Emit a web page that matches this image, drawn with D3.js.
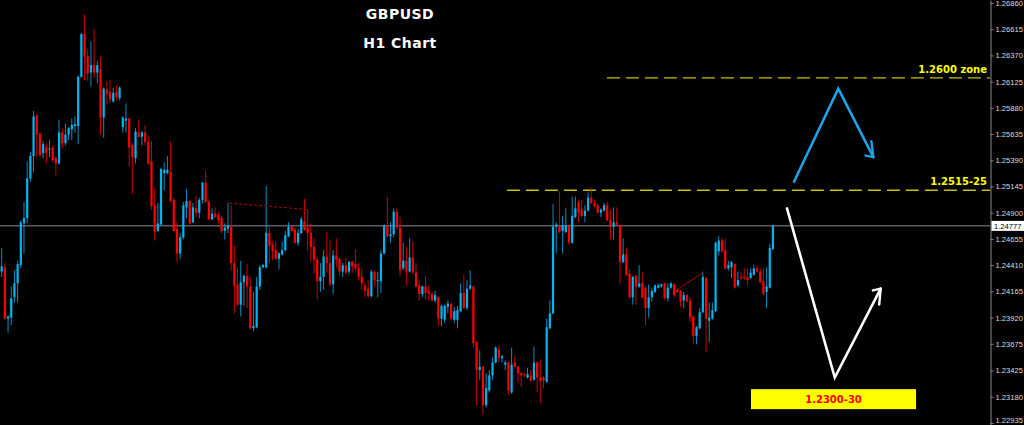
<!DOCTYPE html>
<html><head><meta charset="utf-8">
<script src="https://cdn.jsdelivr.net/npm/d3@7"></script>
<style>html,body{margin:0;padding:0;background:#000;overflow:hidden}</style>
</head><body>
<svg id="chart" width="1024" height="425"></svg>
<script>
// ---- data (GBPUSD H1) ----
const open = [
1.2435,1.2439,1.2391,1.2392,1.2411,1.2424,1.2441,1.2480,1.2485,1.2522,
1.2543,1.2581,1.2564,1.2546,1.2551,1.2549,1.2551,1.2541,1.2536,1.2565,
1.2555,1.2563,1.2568,1.2571,1.2571,1.2617,1.2657,1.2636,1.2621,1.2628,
1.2621,1.2624,1.2579,1.2605,1.2603,1.2594,1.2603,1.2597,1.2570,1.2576,
1.2578,1.2553,1.2541,1.2565,1.2561,1.2565,1.2556,1.2538,1.2497,1.2473,
1.2479,1.2527,1.2527,1.2528,1.2502,1.2475,1.2452,1.2467,1.2495,1.2501,
1.2481,1.2494,1.2490,1.2502,1.2518,1.2500,1.2484,1.2489,1.2488,1.2485,
1.2473,1.2475,1.2477,1.2443,1.2423,1.2404,1.2425,1.2431,1.2421,1.2382,
1.2383,1.2421,1.2439,1.2439,1.2471,1.2460,1.2455,1.2447,1.2451,1.2455,
1.2468,1.2477,1.2474,1.2462,1.2471,1.2482,1.2476,1.2471,1.2458,1.2446,
1.2426,1.2430,1.2449,1.2443,1.2423,1.2450,1.2447,1.2435,1.2441,1.2435,
1.2444,1.2442,1.2438,1.2430,1.2422,1.2419,1.2412,1.2435,1.2426,1.2426,
1.2452,1.2478,1.2468,1.2470,1.2491,1.2476,1.2438,1.2445,1.2435,1.2448,
1.2434,1.2422,1.2414,1.2421,1.2416,1.2414,1.2408,1.2411,1.2391,1.2390,
1.2402,1.2405,1.2390,1.2390,1.2398,1.2415,1.2401,1.2419,1.2421,1.2369,
1.2343,1.2346,1.2310,1.2324,1.2338,1.2350,1.2362,1.2354,1.2348,1.2350,
1.2322,1.2350,1.2346,1.2340,1.2339,1.2336,1.2338,1.2334,1.2350,1.2336,
1.2336,1.2332,1.2382,1.2396,1.2477,1.2478,1.2473,1.2472,1.2478,1.2462,
1.2486,1.2500,1.2493,1.2487,1.2492,1.2504,1.2499,1.2497,1.2490,1.2492,
1.2497,1.2483,1.2477,1.2481,1.2478,1.2444,1.2451,1.2433,1.2411,1.2431,
1.2421,1.2424,1.2420,1.2401,1.2411,1.2416,1.2420,1.2421,1.2424,1.2410,
1.2420,1.2423,1.2418,1.2417,1.2408,1.2413,1.2408,1.2393,1.2375,1.2382,
1.2397,1.2429,1.2389,1.2391,1.2398,1.2454,1.2464,1.2455,1.2438,1.2439,
1.2442,1.2422,1.2430,1.2430,1.2430,1.2429,1.2432,1.2438,1.2435,1.2426,
1.2416,1.2420,1.2456];
const high = [
1.2457,1.2443,1.2394,1.2421,1.2436,1.2445,1.2483,1.2500,1.2538,1.2547,
1.2585,1.2582,1.2565,1.2557,1.2555,1.2558,1.2553,1.2543,1.2577,1.2569,
1.2573,1.2570,1.2578,1.2580,1.2618,1.2658,1.2675,1.2643,1.2650,1.2662,
1.2632,1.2636,1.2607,1.2613,1.2614,1.2607,1.2609,1.2608,1.2580,1.2592,
1.2579,1.2555,1.2569,1.2577,1.2566,1.2572,1.2562,1.2557,1.2512,1.2499,
1.2532,1.2537,1.2543,1.2556,1.2504,1.2481,1.2471,1.2500,1.2512,1.2502,
1.2499,1.2506,1.2504,1.2519,1.2529,1.2502,1.2494,1.2495,1.2491,1.2487,
1.2480,1.2499,1.2497,1.2459,1.2438,1.2445,1.2432,1.2442,1.2430,1.2416,
1.2430,1.2441,1.2442,1.2515,1.2477,1.2463,1.2463,1.2453,1.2463,1.2473,
1.2481,1.2478,1.2476,1.2475,1.2486,1.2503,1.2493,1.2480,1.2466,1.2449,
1.2443,1.2455,1.2472,1.2465,1.2455,1.2466,1.2448,1.2443,1.2448,1.2445,
1.2445,1.2456,1.2443,1.2438,1.2425,1.2427,1.2437,1.2436,1.2435,1.2455,
1.2479,1.2505,1.2481,1.2494,1.2494,1.2486,1.2462,1.2458,1.2466,1.2463,
1.2443,1.2427,1.2422,1.2431,1.2422,1.2416,1.2417,1.2412,1.2404,1.2404,
1.2408,1.2406,1.2402,1.2403,1.2424,1.2432,1.2427,1.2436,1.2422,1.2370,
1.2361,1.2347,1.2340,1.2343,1.2355,1.2365,1.2366,1.2357,1.2352,1.2351,
1.2364,1.2356,1.2347,1.2341,1.2340,1.2345,1.2343,1.2365,1.2351,1.2353,
1.2337,1.2391,1.2408,1.2498,1.2481,1.2510,1.2487,1.2494,1.2479,1.2505,
1.2505,1.2502,1.2502,1.2497,1.2509,1.2513,1.2502,1.2498,1.2494,1.2499,
1.2500,1.2493,1.2495,1.2495,1.2479,1.2466,1.2457,1.2437,1.2431,1.2432,
1.2441,1.2434,1.2421,1.2423,1.2420,1.2423,1.2424,1.2424,1.2425,1.2424,
1.2425,1.2424,1.2419,1.2418,1.2416,1.2414,1.2411,1.2394,1.2384,1.2401,
1.2435,1.2430,1.2406,1.2406,1.2463,1.2468,1.2466,1.2466,1.2445,1.2445,
1.2443,1.2435,1.2434,1.2438,1.2438,1.2438,1.2441,1.2441,1.2438,1.2438,
1.2439,1.2461,1.2479];
const low = [
1.2430,1.2390,1.2378,1.2385,1.2406,1.2406,1.2438,1.2452,1.2480,1.2519,
1.2528,1.2542,1.2542,1.2541,1.2536,1.2542,1.2537,1.2525,1.2535,1.2550,
1.2553,1.2558,1.2558,1.2565,1.2554,1.2616,1.2614,1.2613,1.2608,1.2616,
1.2611,1.2563,1.2560,1.2591,1.2593,1.2593,1.2595,1.2595,1.2565,1.2565,
1.2533,1.2508,1.2536,1.2560,1.2553,1.2553,1.2535,1.2493,1.2464,1.2472,
1.2478,1.2511,1.2526,1.2500,1.2472,1.2444,1.2447,1.2465,1.2485,1.2479,
1.2480,1.2486,1.2485,1.2499,1.2499,1.2483,1.2483,1.2485,1.2480,1.2471,
1.2465,1.2471,1.2436,1.2396,1.2403,1.2393,1.2403,1.2401,1.2381,1.2379,
1.2382,1.2418,1.2438,1.2438,1.2443,1.2446,1.2446,1.2437,1.2450,1.2454,
1.2467,1.2472,1.2461,1.2459,1.2470,1.2473,1.2455,1.2444,1.2433,1.2409,
1.2416,1.2418,1.2434,1.2421,1.2414,1.2439,1.2431,1.2430,1.2433,1.2433,
1.2434,1.2436,1.2427,1.2418,1.2411,1.2411,1.2411,1.2421,1.2411,1.2415,
1.2451,1.2467,1.2462,1.2467,1.2474,1.2431,1.2436,1.2422,1.2434,1.2433,
1.2420,1.2408,1.2411,1.2409,1.2408,1.2407,1.2406,1.2384,1.2384,1.2387,
1.2396,1.2390,1.2387,1.2382,1.2397,1.2400,1.2399,1.2418,1.2364,1.2310,
1.2334,1.2301,1.2308,1.2322,1.2334,1.2349,1.2350,1.2350,1.2343,1.2320,
1.2321,1.2345,1.2331,1.2327,1.2336,1.2335,1.2332,1.2333,1.2322,1.2312,
1.2326,1.2331,1.2381,1.2395,1.2452,1.2471,1.2452,1.2471,1.2460,1.2461,
1.2485,1.2481,1.2486,1.2481,1.2491,1.2498,1.2495,1.2489,1.2486,1.2491,
1.2482,1.2465,1.2465,1.2478,1.2423,1.2443,1.2431,1.2410,1.2404,1.2404,
1.2420,1.2410,1.2385,1.2392,1.2407,1.2415,1.2419,1.2420,1.2409,1.2407,
1.2419,1.2411,1.2415,1.2402,1.2401,1.2406,1.2388,1.2368,1.2367,1.2381,
1.2396,1.2360,1.2369,1.2390,1.2397,1.2450,1.2453,1.2437,1.2436,1.2429,
1.2419,1.2421,1.2427,1.2427,1.2422,1.2428,1.2431,1.2434,1.2424,1.2413,
1.2401,1.2419,1.2455];
const close = [
1.2440,1.2391,1.2393,1.2410,1.2424,1.2442,1.2481,1.2485,1.2522,1.2543,
1.2580,1.2563,1.2544,1.2554,1.2546,1.2550,1.2539,1.2536,1.2565,1.2555,
1.2563,1.2569,1.2572,1.2573,1.2617,1.2657,1.2636,1.2620,1.2628,1.2621,
1.2628,1.2579,1.2606,1.2601,1.2596,1.2602,1.2598,1.2607,1.2579,1.2578,
1.2551,1.2542,1.2566,1.2561,1.2565,1.2556,1.2536,1.2496,1.2472,1.2480,
1.2531,1.2530,1.2530,1.2501,1.2473,1.2452,1.2467,1.2497,1.2501,1.2480,
1.2495,1.2490,1.2502,1.2518,1.2500,1.2484,1.2489,1.2486,1.2483,1.2473,
1.2476,1.2478,1.2443,1.2422,1.2404,1.2425,1.2431,1.2421,1.2382,1.2384,
1.2421,1.2439,1.2441,1.2471,1.2459,1.2454,1.2447,1.2452,1.2455,1.2469,
1.2477,1.2473,1.2462,1.2471,1.2484,1.2474,1.2471,1.2458,1.2446,1.2426,
1.2430,1.2449,1.2443,1.2423,1.2450,1.2446,1.2435,1.2441,1.2434,1.2444,
1.2440,1.2438,1.2430,1.2424,1.2417,1.2412,1.2435,1.2427,1.2427,1.2452,
1.2478,1.2468,1.2470,1.2491,1.2476,1.2436,1.2445,1.2435,1.2448,1.2434,
1.2421,1.2414,1.2421,1.2415,1.2414,1.2408,1.2413,1.2391,1.2403,1.2403,
1.2405,1.2391,1.2398,1.2399,1.2415,1.2401,1.2419,1.2422,1.2368,1.2343,
1.2346,1.2310,1.2326,1.2338,1.2350,1.2364,1.2354,1.2356,1.2350,1.2324,
1.2348,1.2346,1.2340,1.2338,1.2338,1.2339,1.2333,1.2350,1.2336,1.2333,
1.2333,1.2383,1.2396,1.2477,1.2479,1.2472,1.2478,1.2478,1.2462,1.2487,
1.2494,1.2490,1.2487,1.2492,1.2504,1.2499,1.2496,1.2490,1.2493,1.2497,
1.2483,1.2477,1.2481,1.2479,1.2444,1.2451,1.2432,1.2411,1.2430,1.2421,
1.2424,1.2411,1.2401,1.2411,1.2417,1.2422,1.2422,1.2423,1.2410,1.2420,
1.2424,1.2413,1.2416,1.2407,1.2413,1.2407,1.2392,1.2375,1.2383,1.2397,
1.2430,1.2391,1.2392,1.2399,1.2462,1.2464,1.2454,1.2438,1.2441,1.2444,
1.2420,1.2427,1.2429,1.2429,1.2427,1.2434,1.2438,1.2435,1.2425,1.2414,
1.2421,1.2457,1.24777];

const tickValues = [1.26860,1.26615,1.26370,1.26125,1.25880,1.25635,1.25390,1.25145,1.24900,
                    1.24655,1.24410,1.24165,1.23920,1.23675,1.23425,1.23180,1.22935];
const tickLabels = ["1.26860","1.26615","1.26370","1.26125","1.25880","1.25635","1.25390","1.25145","1.24900",
                    "1.24655","1.24410","1.24165","1.23920","1.23675","1.23425","1.23180","1.22935"];
const currentPrice = 1.24777;
const currentLabel = "1.24777";

const titleLines = ["GBPUSD", "H1 Chart"];

// horizontal levels (dashed yellow)
const levelPrice = [1.2511, 1.2616];
const levelStartBar = [158.5, 189.9];
const levelLabel = ["1.2515-25", "1.2600 zone"];

// trend lines (bar index, price)
const trend1Bar = [71.4, 96.2],   trend1Price = [1.2499, 1.2493];
const trend2Bar = [211.8, 220.1], trend2Price = [1.2418, 1.2434];

// scenario arrows
const blueArrowBar = [248.6, 262.5, 273.5],  blueArrowPrice = [1.2519, 1.2606, 1.2542];
const whiteArrowBar = [246.4, 261.4, 275.8], whiteArrowPrice = [1.2494, 1.2336, 1.2419];

// target box
const targetBar = [235.1, 286.9], targetPrice = [1.23251, 1.23064];
const targetLabel = "1.2300-30";

// ---- drawing ----
const W = 1024, H = 425, plotRight = 990;
const svg = d3.select("#chart");
svg.append("rect").attr("width", W).attr("height", H).attr("fill", "#000");

const x = d3.scaleLinear().domain([-0.53, 310.1]).range([0, plotRight]);
const y = d3.scaleLinear().domain([1.22916, 1.26888]).range([H, 0]);

const bars = open.map((o, i) => ({i, o, h: high[i], l: low[i], c: close[i]}));

// level lines
levelPrice.forEach((p, k) => {
  svg.append("line")
    .attr("x1", x(levelStartBar[k])).attr("x2", plotRight)
    .attr("y1", y(p)).attr("y2", y(p))
    .attr("stroke", "#c4c400").attr("stroke-width", 1.3)
    .attr("stroke-dasharray", "13,6");
  svg.append("text")
    .attr("x", plotRight - 3).attr("y", y(p) - 5)
    .attr("text-anchor", "end")
    .attr("font-family", "DejaVu Sans, sans-serif").attr("font-weight", "bold")
    .attr("font-size", "10px").attr("fill", "#ffff00")
    .text(levelLabel[k]);
});

// current price line
svg.append("line")
  .attr("x1", 0).attr("x2", plotRight)
  .attr("y1", y(currentPrice)).attr("y2", y(currentPrice))
  .attr("stroke", "#5a5e64").attr("stroke-width", 1.5);

// candles
const bull = "#00b4f2", bear = "#ff0000";
const g = svg.append("g");
g.selectAll("line.wick").data(bars).join("line")
  .attr("class", "wick")
  .attr("x1", d => x(d.i)).attr("x2", d => x(d.i))
  .attr("y1", d => y(d.h)).attr("y2", d => y(d.l))
  .attr("stroke", d => d.c >= d.o ? bull : bear)
  .attr("stroke-width", 1).attr("stroke-opacity", 0.8);
g.selectAll("rect.body").data(bars).join("rect")
  .attr("class", "body")
  .attr("x", d => x(d.i) - 1.1).attr("width", 2.2)
  .attr("y", d => y(Math.max(d.o, d.c)))
  .attr("height", d => Math.max(1, Math.abs(y(d.o) - y(d.c))))
  .attr("fill", d => d.c >= d.o ? bull : bear);

// trend lines
svg.append("line")
  .attr("x1", x(trend1Bar[0])).attr("y1", y(trend1Price[0]))
  .attr("x2", x(trend1Bar[1])).attr("y2", y(trend1Price[1]))
  .attr("stroke", "#b00000").attr("stroke-width", 1).attr("stroke-dasharray", "3,2");
svg.append("line")
  .attr("x1", x(trend2Bar[0])).attr("y1", y(trend2Price[0]))
  .attr("x2", x(trend2Bar[1])).attr("y2", y(trend2Price[1]))
  .attr("stroke", "#b00000").attr("stroke-width", 1);

// arrows
function arrow(bs, ps, color, turns) {
  const pts = bs.map((b, k) => [x(b), y(ps[k])]);
  svg.append("path")
    .attr("d", d3.line()(pts))
    .attr("fill", "none").attr("stroke", color).attr("stroke-width", 2.6)
    .attr("stroke-linejoin", "miter").attr("stroke-linecap", "round");
  const tip = pts[pts.length - 1], prev = pts[pts.length - 2];
  const ang = Math.atan2(prev[1] - tip[1], prev[0] - tip[0]);
  turns.forEach(([deg, len]) => {
    const a = ang + deg * Math.PI / 180;
    svg.append("line")
      .attr("x1", tip[0]).attr("y1", tip[1])
      .attr("x2", tip[0] + len * Math.cos(a)).attr("y2", tip[1] + len * Math.sin(a))
      .attr("stroke", color).attr("stroke-width", 2.4).attr("stroke-linecap", "round");
  });
}
arrow(blueArrowBar, blueArrowPrice, "#1fa2e6", [[20, 16], [-52, 8]]);
arrow(whiteArrowBar, whiteArrowPrice, "#ffffff", [[-22, 16], [50, 8]]);

// target box
svg.append("rect")
  .attr("x", x(targetBar[0])).attr("width", x(targetBar[1]) - x(targetBar[0]))
  .attr("y", y(targetPrice[0])).attr("height", y(targetPrice[1]) - y(targetPrice[0]))
  .attr("fill", "#ffff00");
svg.append("text")
  .attr("x", (x(targetBar[0]) + x(targetBar[1])) / 2)
  .attr("y", (y(targetPrice[0]) + y(targetPrice[1])) / 2 + 3.6)
  .attr("text-anchor", "middle")
  .attr("font-family", "DejaVu Sans, sans-serif").attr("font-weight", "bold")
  .attr("font-size", "10px").attr("fill", "#ff0000")
  .text(targetLabel);

// title
titleLines.forEach((t, k) => {
  svg.append("text")
    .attr("x", 400).attr("y", 19 + k * 28.5)
    .attr("text-anchor", "middle")
    .attr("font-family", "DejaVu Sans, sans-serif").attr("font-weight", "bold")
    .attr("font-size", "14px").attr("letter-spacing", "0.5px").attr("fill", "#ffffff")
    .text(t);
});

// right price axis
const axis = d3.axisRight(y)
  .tickValues(tickValues)
  .tickFormat((d, i) => tickLabels[i])
  .tickSize(3).tickSizeOuter(0).tickPadding(2);
const ax = svg.append("g").attr("transform", `translate(${plotRight + 0.5},0)`).call(axis);
ax.select(".domain").attr("stroke", "#8a8a8a");
ax.selectAll(".tick line").attr("stroke", "#8a8a8a");
ax.selectAll(".tick text").attr("fill", "#dcdcdc")
  .attr("font-family", "Liberation Sans, Arial, sans-serif").attr("font-size", "7.6px")
  .attr("dy", d => (y(d) > H - 5 ? "-0.05em" : "0.32em"));

// current price tag
const cy = y(currentPrice);
svg.append("rect").attr("x", plotRight + 1.5).attr("y", cy - 5).attr("width", W - plotRight - 1.5).attr("height", 10)
  .attr("fill", "#ffffff");
svg.append("text").attr("x", plotRight + 4).attr("y", cy + 2.7)
  .attr("font-family", "Liberation Sans, Arial, sans-serif").attr("font-size", "7.6px")
  .attr("fill", "#000").text(currentLabel);
</script>
</body></html>
